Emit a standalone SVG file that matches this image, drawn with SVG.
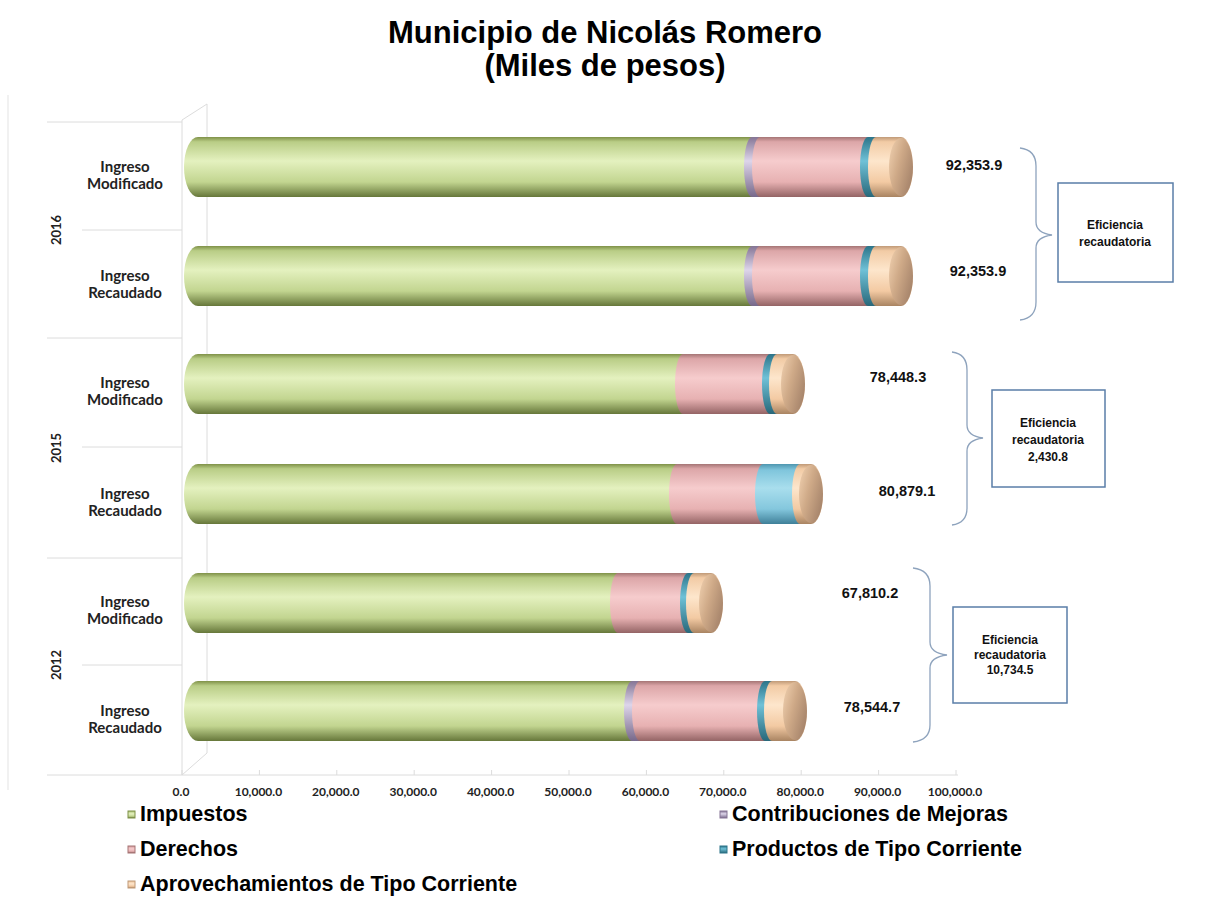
<svg xmlns="http://www.w3.org/2000/svg" width="1207" height="905" viewBox="0 0 1207 905">
<defs>
<style>
.title{font-family:"Liberation Sans",Arial,sans-serif;font-weight:bold;font-size:31px;fill:#000;text-anchor:middle}
.cat{font-family:Lato,"Open Sans",sans-serif;font-weight:bold;font-size:15px;fill:#222;text-anchor:middle}
.yr{font-family:Lato,"Open Sans",sans-serif;font-weight:bold;font-size:13px;fill:#222;text-anchor:middle}
.ax{font-family:Lato,"Open Sans",sans-serif;font-weight:bold;font-size:12px;fill:#222;text-anchor:middle}
.val{font-family:"Liberation Sans",Arial,sans-serif;font-weight:bold;font-size:14.5px;fill:#111;text-anchor:middle}
.box{fill:#fff;stroke:#5a7ea8;stroke-width:1.5}
.btxt{font-family:"Liberation Sans",Arial,sans-serif;font-weight:bold;font-size:12px;fill:#111;text-anchor:middle}
.brace{fill:none;stroke:#8ea3bd;stroke-width:1.3}
.grid{stroke:#dcdcdc;stroke-width:1;fill:none}
.leg{font-family:"Liberation Sans",Arial,sans-serif;font-weight:bold;font-size:21.5px;fill:#000}
</style>
<linearGradient id="gG" x1="0" y1="0" x2="0" y2="1">
<stop offset="0" stop-color="#7f9148"/><stop offset="0.08" stop-color="#b9cd86"/><stop offset="0.4" stop-color="#e4f1bf"/><stop offset="0.75" stop-color="#c2d590"/><stop offset="1" stop-color="#66773a"/>
</linearGradient>
<linearGradient id="gP" x1="0" y1="0" x2="0" y2="1">
<stop offset="0" stop-color="#a57575"/><stop offset="0.08" stop-color="#dca6a8"/><stop offset="0.4" stop-color="#f6cccd"/><stop offset="0.75" stop-color="#e7b1b2"/><stop offset="1" stop-color="#946465"/>
</linearGradient>
<linearGradient id="gT" x1="0" y1="0" x2="0" y2="1">
<stop offset="0" stop-color="#c09a78"/><stop offset="0.08" stop-color="#f2cba5"/><stop offset="0.4" stop-color="#fde6cc"/><stop offset="0.75" stop-color="#f3caa3"/><stop offset="1" stop-color="#a98462"/>
</linearGradient>
<linearGradient id="gC" x1="0" y1="0" x2="0" y2="1">
<stop offset="0" stop-color="#2c7489"/><stop offset="0.4" stop-color="#6fc1d7"/><stop offset="1" stop-color="#28687a"/>
</linearGradient>
<linearGradient id="gB" x1="0" y1="0" x2="0" y2="1">
<stop offset="0" stop-color="#4f97b0"/><stop offset="0.1" stop-color="#7fc5dc"/><stop offset="0.4" stop-color="#a9deed"/><stop offset="0.75" stop-color="#84c7dd"/><stop offset="1" stop-color="#3f8099"/>
</linearGradient>
<linearGradient id="gV" x1="0" y1="0" x2="0" y2="1">
<stop offset="0" stop-color="#857595"/><stop offset="0.4" stop-color="#ddd5ea"/><stop offset="1" stop-color="#77688a"/>
</linearGradient>
<linearGradient id="gF" x1="0" y1="0.1" x2="1" y2="0.7">
<stop offset="0" stop-color="#efcfae"/><stop offset="0.45" stop-color="#cfaa88"/><stop offset="1" stop-color="#a5836a"/>
</linearGradient>
</defs>
<rect width="1207" height="905" fill="#fff"/>

<g id="title">
<text class="title" x="605" y="43">Municipio de Nicolás Romero</text>
<text class="title" x="605" y="76">(Miles de pesos)</text>
</g>

<g id="axes">
<path d="M8 95V790" stroke="#ececec" stroke-width="1.5" fill="none"/>
<path class="grid" d="M47 122H182M82 230H182M47 338H182M82 447H182M47 558H182M82 665H182M47 775H182"/>
<path class="grid" d="M182 775V120L207 104V753L182 775"/>
<path class="grid" d="M182 775H958M182 775V770M259.4 775V770M336.8 775V770M414.2 775V770M491.6 775V770M569 775V770M646.4 775V770M723.8 775V770M801.2 775V770M878.6 775V770M956 775V770"/>
<text class="ax" x="181" y="796">0.0</text>
<text class="ax" x="258.4" y="796">10,000.0</text>
<text class="ax" x="335.8" y="796">20,000.0</text>
<text class="ax" x="413.2" y="796">30,000.0</text>
<text class="ax" x="490.6" y="796">40,000.0</text>
<text class="ax" x="568" y="796">50,000.0</text>
<text class="ax" x="645.4" y="796">60,000.0</text>
<text class="ax" x="722.8" y="796">70,000.0</text>
<text class="ax" x="800.2" y="796">80,000.0</text>
<text class="ax" x="877.6" y="796">90,000.0</text>
<text class="ax" x="955" y="796">100,000.0</text>
</g>

<g id="categories">
<text class="cat" x="125" y="172">Ingreso</text><text class="cat" x="125" y="189">Modificado</text>
<text class="cat" x="125" y="281">Ingreso</text><text class="cat" x="125" y="298">Recaudado</text>
<text class="cat" x="125" y="388">Ingreso</text><text class="cat" x="125" y="405">Modificado</text>
<text class="cat" x="125" y="499">Ingreso</text><text class="cat" x="125" y="516">Recaudado</text>
<text class="cat" x="125" y="607">Ingreso</text><text class="cat" x="125" y="624">Modificado</text>
<text class="cat" x="125" y="716">Ingreso</text><text class="cat" x="125" y="733">Recaudado</text>
<text class="yr" transform="translate(61 230) rotate(-90)">2016</text>
<text class="yr" transform="translate(61 448) rotate(-90)">2015</text>
<text class="yr" transform="translate(61 665) rotate(-90)">2012</text>
</g>

<g id="bar-2016-modificado">
<path fill="url(#gG)" d="M198 137H752A8 30 0 0 1 752 197H198A14 30 0 0 1 198 137Z"/>
<path fill="url(#gV)" d="M752 137H760A8 30 0 0 1 760 197H752A8 30 0 0 1 752 137Z"/>
<path fill="url(#gP)" d="M760 137H868A8 30 0 0 1 868 197H760A8 30 0 0 1 760 137Z"/>
<path fill="url(#gC)" d="M868 137H876A8 30 0 0 1 876 197H868A8 30 0 0 1 868 137Z"/>
<path fill="url(#gT)" d="M876 137H901A12 30 0 0 1 901 197H876A8 30 0 0 1 876 137Z"/>
<ellipse cx="901" cy="167" rx="12" ry="29" fill="url(#gF)"/>
</g>
<g id="bar-2016-recaudado">
<path fill="url(#gG)" d="M198 246H752A8 30 0 0 1 752 306H198A14 30 0 0 1 198 246Z"/>
<path fill="url(#gV)" d="M752 246H760A8 30 0 0 1 760 306H752A8 30 0 0 1 752 246Z"/>
<path fill="url(#gP)" d="M760 246H868A8 30 0 0 1 868 306H760A8 30 0 0 1 760 246Z"/>
<path fill="url(#gC)" d="M868 246H876A8 30 0 0 1 876 306H868A8 30 0 0 1 868 246Z"/>
<path fill="url(#gT)" d="M876 246H901A12 30 0 0 1 901 306H876A8 30 0 0 1 876 246Z"/>
<ellipse cx="901" cy="276" rx="12" ry="29" fill="url(#gF)"/>
</g>
<g id="bar-2015-modificado">
<path fill="url(#gG)" d="M198 354H683A8 30 0 0 1 683 414H198A14 30 0 0 1 198 354Z"/>
<path fill="url(#gP)" d="M683 354H770A8 30 0 0 1 770 414H683A8 30 0 0 1 683 354Z"/>
<path fill="url(#gC)" d="M770 354H777A8 30 0 0 1 777 414H770A8 30 0 0 1 770 354Z"/>
<path fill="url(#gT)" d="M777 354H793A12 30 0 0 1 793 414H777A8 30 0 0 1 777 354Z"/>
<ellipse cx="793" cy="384" rx="12" ry="29" fill="url(#gF)"/>
</g>
<g id="bar-2015-recaudado">
<path fill="url(#gG)" d="M198 464H677A8 30 0 0 1 677 524H198A14 30 0 0 1 198 464Z"/>
<path fill="url(#gP)" d="M677 464H763A8 30 0 0 1 763 524H677A8 30 0 0 1 677 464Z"/>
<path fill="url(#gB)" d="M763 464H800A8 30 0 0 1 800 524H763A8 30 0 0 1 763 464Z"/>
<path fill="url(#gT)" d="M800 464H811A12 30 0 0 1 811 524H800A8 30 0 0 1 800 464Z"/>
<ellipse cx="811" cy="494" rx="12" ry="29" fill="url(#gF)"/>
</g>
<g id="bar-2012-modificado">
<path fill="url(#gG)" d="M198 573H618A8 30 0 0 1 618 633H198A14 30 0 0 1 198 573Z"/>
<path fill="url(#gP)" d="M618 573H688A8 30 0 0 1 688 633H618A8 30 0 0 1 618 573Z"/>
<path fill="url(#gC)" d="M688 573H694A8 30 0 0 1 694 633H688A8 30 0 0 1 688 573Z"/>
<path fill="url(#gT)" d="M694 573H711A12 30 0 0 1 711 633H694A8 30 0 0 1 694 573Z"/>
<ellipse cx="711" cy="603" rx="12" ry="29" fill="url(#gF)"/>
</g>
<g id="bar-2012-recaudado">
<path fill="url(#gG)" d="M198 681H632A8 30 0 0 1 632 741H198A14 30 0 0 1 198 681Z"/>
<path fill="url(#gV)" d="M632 681H640A8 30 0 0 1 640 741H632A8 30 0 0 1 632 681Z"/>
<path fill="url(#gP)" d="M640 681H765A8 30 0 0 1 765 741H640A8 30 0 0 1 640 681Z"/>
<path fill="url(#gC)" d="M765 681H772A8 30 0 0 1 772 741H765A8 30 0 0 1 765 681Z"/>
<path fill="url(#gT)" d="M772 681H795A12 30 0 0 1 795 741H772A8 30 0 0 1 772 681Z"/>
<ellipse cx="795" cy="711" rx="12" ry="29" fill="url(#gF)"/>
</g>

<g id="values">
<text class="val" x="974" y="170">92,353.9</text>
<text class="val" x="978" y="276">92,353.9</text>
<text class="val" x="898" y="382">78,448.3</text>
<text class="val" x="907" y="496">80,879.1</text>
<text class="val" x="870" y="598">67,810.2</text>
<text class="val" x="872" y="712">78,544.7</text>
</g>

<g id="connectors">
<path class="brace" d="M1020 148Q1036 150 1036 166V222Q1036 233 1052 235Q1036 237 1036 248V302Q1036 318 1020 320"/>
<path class="brace" d="M952 352Q967 354 967 370V425Q967 436 983 438Q967 440 967 451V508Q967 523 952 525"/>
<path class="brace" d="M913 568Q930 570 930 586V642Q930 653 947 655Q930 657 930 668V725Q930 740 913 742"/>
</g>

<g id="box-2016">
<rect class="box" x="1058" y="183" width="115" height="99"/>
<text class="btxt" x="1115" y="229">Eficiencia</text>
<text class="btxt" x="1115" y="246">recaudatoria</text>
</g>
<g id="box-2015">
<rect class="box" x="992" y="390" width="113" height="97"/>
<text class="btxt" x="1048" y="427">Eficiencia</text>
<text class="btxt" x="1048" y="444">recaudatoria</text>
<text class="btxt" x="1048" y="461">2,430.8</text>
</g>
<g id="box-2012">
<rect class="box" x="953" y="607" width="114" height="96"/>
<text class="btxt" x="1010" y="644">Eficiencia</text>
<text class="btxt" x="1010" y="659">recaudatoria</text>
<text class="btxt" x="1010" y="674">10,734.5</text>
</g>

<g id="legend">
<rect x="128" y="811" width="7" height="7" fill="url(#gG)" stroke="#7f9148" stroke-width="1"/>
<text class="leg" x="140" y="821">Impuestos</text>
<rect x="128" y="846" width="7" height="7" fill="url(#gP)" stroke="#a57575" stroke-width="1"/>
<text class="leg" x="140" y="856">Derechos</text>
<rect x="128" y="881" width="7" height="7" fill="url(#gT)" stroke="#c09a78" stroke-width="1"/>
<text class="leg" x="140" y="891">Aprovechamientos de Tipo Corriente</text>
<rect x="720" y="811" width="7" height="7" fill="url(#gV)" stroke="#857595" stroke-width="1"/>
<text class="leg" x="732" y="821">Contribuciones de Mejoras</text>
<rect x="720" y="846" width="7" height="7" fill="url(#gC)" stroke="#2c7489" stroke-width="1"/>
<text class="leg" x="732" y="856">Productos de Tipo Corriente</text>
</g>
</svg>
